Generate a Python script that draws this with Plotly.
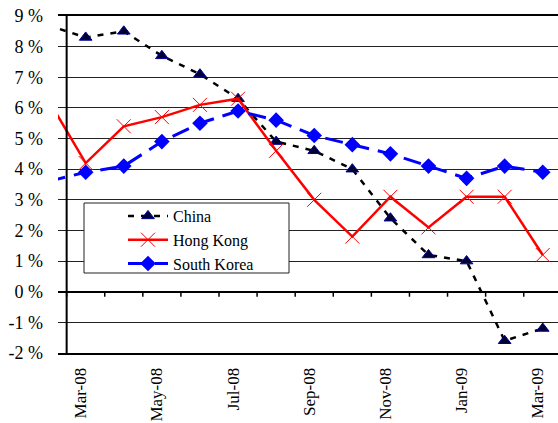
import plotly.graph_objects as go

months = ["Feb-08", "Mar-08", "Apr-08", "May-08", "Jun-08", "Jul-08", "Aug-08",
          "Sep-08", "Oct-08", "Nov-08", "Dec-08", "Jan-09", "Feb-09", "Mar-09"]
china = [8.7, 8.3, 8.5, 7.7, 7.1, 6.3, 4.9, 4.6, 4.0, 2.4, 1.2, 1.0, -1.6, -1.2]
hong_kong = [6.3, 4.2, 5.4, 5.7, 6.1, 6.3, 4.6, 3.0, 1.8, 3.1, 2.1, 3.1, 3.1, 1.2]
south_korea = [3.6, 3.9, 4.1, 4.9, 5.5, 5.9, 5.6, 5.1, 4.8, 4.5, 4.1, 3.7, 4.1, 3.9]
y_ticks = list(range(-2, 10))
y_tick_labels = [f"{v} %" for v in y_ticks]

x = list(range(len(months)))
x_tick_vals = x[1::2]
x_tick_labels = months[1::2]

FONT = "Liberation Serif, Times New Roman, serif"
W, H = 558, 423
ML, MR, MT, MB = 58, 0, 16, 70
PW, PH = W - ML - MR, H - MT - MB


def px_x(p):
    return (p - ML) / PW


def px_y(p):
    return (H - MB - p) / PH


fig = go.Figure()
fig.add_trace(go.Scatter(
    x=x, y=china, name="China", mode="lines+markers",
    line=dict(color="black", width=2.5, dash="6px,7px"),
    marker=dict(symbol="triangle-up", size=11, color="#000033",
                line=dict(color="#000099", width=1)),
))
fig.add_trace(go.Scatter(
    x=x, y=hong_kong, name="Hong Kong", mode="lines+markers",
    line=dict(color="#ff0000", width=2.5),
    marker=dict(symbol="x-thin", size=14, color="#ff0000",
                line=dict(color="#ff0000", width=1)),
))
fig.add_trace(go.Scatter(
    x=x, y=south_korea, name="South Korea", mode="lines+markers",
    line=dict(color="#0000ff", width=3, dash="18px,9px"),
    marker=dict(symbol="diamond", size=12, color="#0000ff"),
))

shapes = []
# y-axis line at the category boundary
shapes.append(dict(type="line", xref="x", yref="y", x0=0.5, x1=0.5,
                   y0=y_ticks[0], y1=y_ticks[-1],
                   line=dict(color="black", width=2)))
# tick marks on the 0 % line, between categories
for i in range(len(months) - 1):
    shapes.append(dict(type="line", xref="x", yref="y", x0=i + 0.5, x1=i + 0.5,
                       ysizemode="pixel", yanchor=0, y0=0, y1=-5,
                       line=dict(color="black", width=1.5)))
# legend box
shapes.append(dict(type="rect", xref="paper", yref="paper",
                   x0=px_x(84), x1=px_x(289), y0=px_y(273), y1=px_y(203),
                   fillcolor="white", line=dict(color="#222222", width=1),
                   layer="above"))

fig.update_layout(
    width=W, height=H,
    margin=dict(l=ML, r=MR, t=MT, b=MB, autoexpand=False),
    paper_bgcolor="white", plot_bgcolor="white",
    font=dict(family=FONT, size=17, color="black"),
    showlegend=True,
    legend=dict(x=px_x(123), y=px_y(199), xanchor="left", yanchor="top",
                bgcolor="rgba(0,0,0,0)", borderwidth=0,
                font=dict(family=FONT, size=16, color="black"),
                itemwidth=40),
    shapes=shapes,
    xaxis=dict(range=[0.273, 13.4], tickvals=x_tick_vals, ticktext=x_tick_labels,
               tickangle=-90, showgrid=False, zeroline=False, automargin=False,
               showline=True, linecolor="black", linewidth=2, mirror=True,
               ticks="", ticklabelstandoff=6, ticklabelshift=-5,
               ticklabeloverflow="allow",
               tickfont=dict(family=FONT, size=17, color="black")),
    yaxis=dict(range=[y_ticks[0], y_ticks[-1]], tickvals=y_ticks, ticktext=y_tick_labels,
               showgrid=True, gridcolor="#222222", gridwidth=1, automargin=False,
               zeroline=True, zerolinecolor="black", zerolinewidth=1.5,
               showline=False, ticks="", ticklabelstandoff=14,
               ticklabeloverflow="allow",
               tickfont=dict(family=FONT, size=18, color="black")),
)

fig.write_html("out.html", config={"displayModeBar": False},
               post_script="document.body.style.margin='0px';")
